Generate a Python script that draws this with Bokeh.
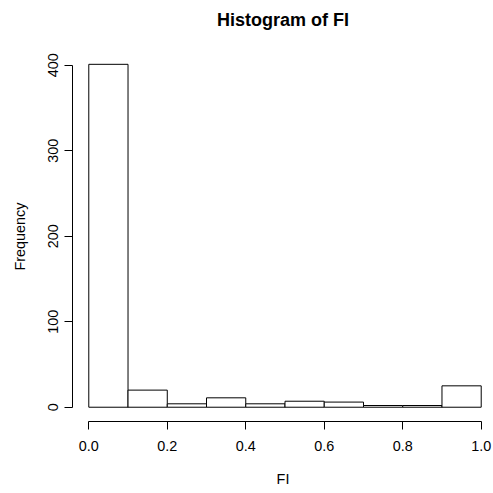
from bokeh.plotting import figure
from bokeh.models import Range1d, FixedTicker, LinearAxis
from bokeh.embed import file_html
from bokeh.resources import INLINE

# Data
bin_left = [0.0, 0.1, 0.2, 0.3, 0.4, 0.5, 0.6, 0.7, 0.8, 0.9]
bin_right = [0.1, 0.2, 0.3, 0.4, 0.5, 0.6, 0.7, 0.8, 0.9, 1.0]
counts = [401, 20, 4, 11, 4, 7, 6, 2, 2, 25]
x_ticks = [0.0, 0.2, 0.4, 0.6, 0.8, 1.0]
x_tick_labels = {0.0: "0.0", 0.2: "0.2", 0.4: "0.4", 0.6: "0.6", 0.8: "0.8", 1.0: "1.0"}
y_ticks = [0, 100, 200, 300, 400]
title_text = "Histogram of FI"

FONT = "Liberation Sans"

p = figure(width=493, height=493, output_backend="svg", toolbar_location=None,
           x_range=Range1d(-0.0415, 1.0313), y_range=Range1d(-16.7, 416.0),
           min_border_left=72, min_border_right=0, min_border_top=51, min_border_bottom=72)

p.quad(left=bin_left, right=bin_right, bottom=0, top=counts,
       fill_color="white", line_color="black", line_width=1)

p.outline_line_color = None
p.grid.visible = False
p.background_fill_color = "white"
p.border_fill_color = "white"

xa = p.below[0]
ya = p.left[0]

# R-style main title, carried by an invisible axis in the top margin
top_axis = LinearAxis(ticker=FixedTicker(ticks=[]), axis_label=title_text,
                      bounds=(0, 1))
top_axis.axis_line_color = None
top_axis.major_tick_line_color = None
top_axis.minor_tick_line_color = None
top_axis.major_tick_out = 0
top_axis.major_tick_in = 0
top_axis.major_label_standoff = 0
top_axis.axis_label_standoff = 22
top_axis.axis_label_text_font = FONT
top_axis.axis_label_text_font_size = "18px"
top_axis.axis_label_text_font_style = "bold"
top_axis.axis_label_text_color = "black"
p.add_layout(top_axis, "above")

for ax in (xa, ya):
    ax.axis_line_color = "black"
    ax.major_tick_line_color = "black"
    ax.minor_tick_line_color = None
    ax.major_tick_out = 8
    ax.major_tick_in = 0
    ax.major_label_text_font = FONT
    ax.major_label_text_font_size = "14.4px"
    ax.major_label_text_color = "black"
    ax.axis_label_text_font = FONT
    ax.axis_label_text_font_size = "14.4px"
    ax.axis_label_text_font_style = "normal"
    ax.axis_label_text_color = "black"

xa.ticker = FixedTicker(ticks=x_ticks)
xa.major_label_overrides = x_tick_labels
xa.bounds = (0, 1)
xa.axis_label = "FI"
xa.major_label_standoff = 11
xa.axis_label_standoff = 17

ya.ticker = FixedTicker(ticks=y_ticks)
ya.bounds = (0, 400)
ya.axis_label = "Frequency"
ya.major_label_orientation = "vertical"
ya.major_label_standoff = 6
ya.axis_label_standoff = 18

open("out.html", "w").write(file_html(p, INLINE))
